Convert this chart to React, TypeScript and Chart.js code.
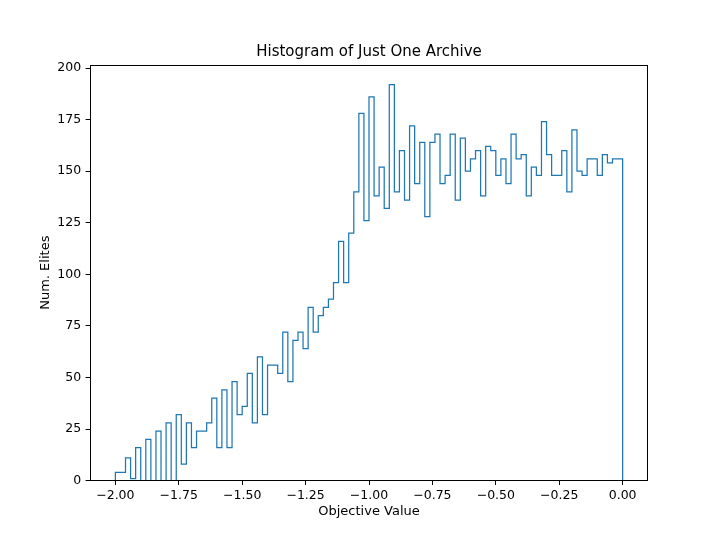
import React, { useEffect, useRef } from 'react';
import { Chart, registerables } from 'chart.js';

Chart.register(...registerables);

// Histogram bins: 100 bins of width 0.02 spanning [-2, 0]
const binStart = -2.0;
const binWidth = 0.02;
const counts = [
  4, 4, 4, 11, 1, 16, 0, 20, 0, 24,
  0, 28, 0, 32, 8, 28, 16, 24, 24, 28,
  40, 16, 44, 16, 48, 32, 36, 52, 28, 60,
  32, 56, 56, 52, 72, 48, 68, 72, 64, 84,
  72, 80, 84, 88, 96, 116, 96, 120, 140, 178,
  126, 186, 138, 152, 132, 192, 140, 160, 136, 172,
  144, 164, 128, 164, 168, 144, 148, 168, 136, 166,
  150, 156, 160, 138, 162, 160, 148, 156, 144, 168,
  156, 158, 138, 152, 148, 174, 158, 148, 148, 160,
  140, 170, 150, 148, 156, 156, 148, 158, 154, 156,
];
const xTicks = [-2.0, -1.75, -1.5, -1.25, -1.0, -0.75, -0.5, -0.25, 0.0];
const yTicks = [0, 25, 50, 75, 100, 125, 150, 175, 200];
const chartTitle = 'Histogram of Just One Archive';
const xLabel = 'Objective Value';
const yLabel = 'Num. Elites';

const FONT = '"DejaVu Sans", sans-serif';

function buildStepPoints() {
  const pts: { x: number; y: number }[] = [{ x: binStart, y: 0 }];
  counts.forEach((c, i) => pts.push({ x: binStart + i * binWidth, y: c }));
  const end = binStart + counts.length * binWidth;
  pts.push({ x: end, y: counts[counts.length - 1] });
  pts.push({ x: end, y: 0 });
  return pts;
}

const framePlugin = {
  id: 'frameAndLabels',
  afterDraw(chart: any) {
    const { ctx, chartArea } = chart;
    const { left, right, top, bottom } = chartArea;
    ctx.save();
    ctx.strokeStyle = '#000';
    ctx.lineWidth = 1;
    const l = Math.round(left) + 0.5;
    const r = Math.round(right) - 0.5;
    const t = Math.round(top) + 0.5;
    const b = Math.round(bottom) - 0.5;
    ctx.strokeRect(l, t, r - l, b - t);

    ctx.fillStyle = '#000';
    ctx.textAlign = 'center';
    ctx.textBaseline = 'middle';
    const cx = (left + right) / 2;
    ctx.font = `15px ${FONT}`;
    ctx.fillText(chartTitle, cx, 52);
    ctx.font = `13px ${FONT}`;
    ctx.fillText(xLabel, cx, 512);
    ctx.translate(46, (top + bottom) / 2);
    ctx.rotate(-Math.PI / 2);
    ctx.fillText(yLabel, 0, 0);
    ctx.restore();
  },
};

function fmtX(v: number) {
  return v.toFixed(2).replace('-', '\u2212');
}

export default function App() {
  const ref = useRef<HTMLCanvasElement | null>(null);
  useEffect(() => {
    document.body.style.margin = '0';
    const canvas = ref.current;
    if (!canvas) return;
    const chart = new Chart(canvas, {
      type: 'scatter',
      data: {
        datasets: [
          {
            data: buildStepPoints(),
            showLine: true,
            stepped: 'after',
            borderColor: '#1f77b4',
            borderWidth: 1.25,
            pointRadius: 0,
            fill: false,
          } as any,
        ],
      },
      plugins: [framePlugin],
      options: {
        animation: false,
        responsive: false,
        devicePixelRatio: 1,
        layout: { padding: { left: 0, right: 72, top: 64.8, bottom: 0 } },
        plugins: {
          legend: { display: false },
          title: { display: false },
          tooltip: { enabled: false },
        },
        scales: {
          x: {
            type: 'linear',
            min: -2.1,
            max: 0.1,
            afterBuildTicks: (scale: any) => {
              scale.ticks = xTicks.map((v) => ({ value: v }));
            },
            afterFit: (scale: any) => {
              scale.height = 540 - 480.6;
            },
            ticks: {
              color: '#000',
              font: { family: FONT, size: 12.5 },
              padding: 3,
              maxRotation: 0,
              autoSkip: false,
              callback: (v: any) => fmtX(Number(v)),
            },
            grid: {
              display: true,
              drawOnChartArea: false,
              drawTicks: true,
              tickLength: 4.4,
              tickColor: '#000',
              lineWidth: 1,
            },
            border: { display: false },
          },
          y: {
            type: 'linear',
            min: 0,
            max: 201.6,
            afterBuildTicks: (scale: any) => {
              scale.ticks = yTicks.map((v) => ({ value: v }));
            },
            afterFit: (scale: any) => {
              scale.width = 90;
            },
            ticks: {
              color: '#000',
              font: { family: FONT, size: 12.5 },
              padding: 4.4,
              autoSkip: false,
              callback: (v: any) => String(v),
            },
            grid: {
              display: true,
              drawOnChartArea: false,
              drawTicks: true,
              tickLength: 4.4,
              tickColor: '#000',
              lineWidth: 1,
            },
            border: { display: false },
          },
        },
      } as any,
    });
    return () => chart.destroy();
  }, []);
  return (
    <div style={{ width: 720, height: 540, background: '#fff' }}>
      <canvas ref={ref} width={720} height={540} style={{ display: 'block' }} />
    </div>
  );
}
